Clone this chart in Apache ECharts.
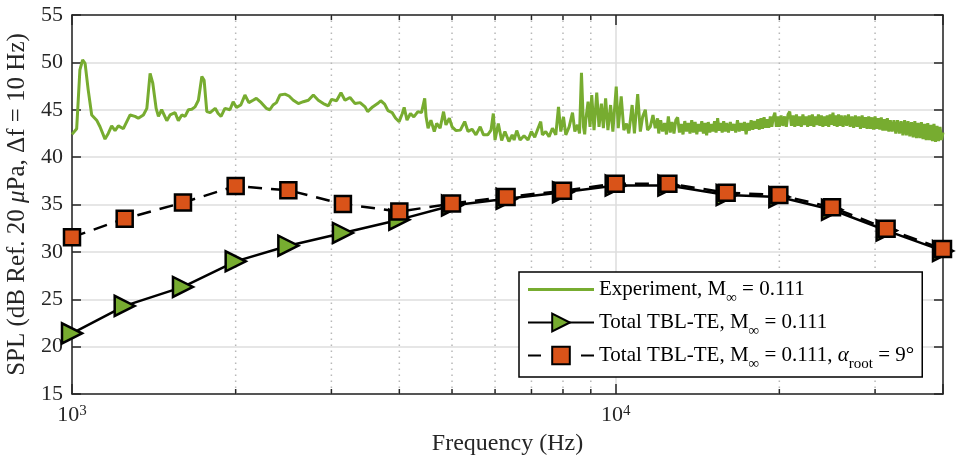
<!DOCTYPE html>
<html>
<head>
<meta charset="utf-8">
<script src="https://cdn.jsdelivr.net/npm/echarts@6/dist/echarts.min.js"></script>
<style>
  html, body { margin: 0; padding: 0; background: #fff; }
  #chart { width: 956px; height: 464px; }
</style>
</head>
<body>
<div id="chart"></div>
<script>
// 1/3 octave band centres (Hz)
var bandFreqs = [1000, 1250, 1600, 2000, 2500, 3150, 4000, 5000, 6300, 8000, 10000, 12500, 16000, 20000, 25000, 31500, 40000];
// Total TBL-TE, M = 0.111
var tblTE = [21.4, 24.3, 26.3, 29.0, 30.65, 32.0, 33.4, 34.9, 35.6, 36.3, 37.0, 37.0, 36.0, 35.8, 34.45, 32.25, 30.1];
// Total TBL-TE, M = 0.111, alpha_root = 9 deg
var tblTE9 = [31.55, 33.5, 35.2, 36.95, 36.5, 35.05, 34.25, 35.1, 35.8, 36.45, 37.2, 37.2, 36.25, 36.0, 34.7, 32.45, 30.3];

// experiment narrowband spectrum [Hz, dB]
var expData = [
  [1000,42.4],[1020,43.0],[1034,49.2],[1046,50.25],[1057,49.9],[1071,47.1],[1087,44.45],[1110,43.9],[1126,43.2],[1150,41.9],
  [1166,42.5],[1183,43.3],[1200,42.8],[1217,43.3],[1243,43.0],[1279,44.45],[1306,44.3],[1324,44.1],[1353,44.45],[1373,45.15],
  [1392,48.85],[1408,47.8],[1428,45.15],[1442,44.3],[1462,45.0],[1494,43.85],[1515,44.45],[1547,44.7],[1569,43.85],[1592,44.45],
  [1614,44.3],[1637,45.0],[1661,45.05],[1684,45.3],[1708,46.0],[1733,48.5],[1750,48.1],[1770,44.8],[1795,44.7],[1834,45.15],
  [1857,44.6],[1880,44.3],[1911,45.15],[1952,45.0],[1979,45.85],[2007,45.25],[2044,45.5],[2080,46.55],[2115,45.75],[2153,46.0],
  [2183,46.2],[2229,45.75],[2277,45.15],[2311,45.0],[2343,45.5],[2377,45.75],[2412,46.55],[2464,46.65],[2507,46.45],[2553,46.0],
  [2608,45.65],[2664,45.85],[2721,46.0],[2779,46.55],[2838,46.0],[2899,45.65],[2961,45.4],[3002,46.1],[3066,45.95],[3124,46.8],
  [3178,46.0],[3246,46.3],[3316,45.65],[3387,45.75],[3460,45.3],[3498,44.8],[3572,45.3],[3648,45.65],[3698,45.95],[3759,45.6],
  [3812,44.9],[3880,44.7],[3938,44.1],[3997,43.75],[4051,44.6],[4083,45.25],[4132,43.9],[4193,44.6],[4253,44.25],[4327,44.8],
  [4394,44.7],[4454,46.2],[4480,44.25],[4518,43.05],[4573,43.9],[4638,42.7],[4686,43.55],[4754,43.05],[4824,44.8],[4873,43.4],
  [4944,44.1],[5001,43.2],[5086,42.8],[5180,42.85],[5276,43.75],[5351,42.7],[5441,42.95],[5533,42.35],[5634,43.2],[5713,42.35],
  [5817,42.35],[5898,42.85],[5956,44.6],[5999,41.8],[6083,43.55],[6170,41.75],[6256,42.7],[6363,41.65],[6452,42.35],[6503,41.8],
  [6577,42.8],[6670,41.8],[6783,42.25],[6899,41.8],[6998,42.7],[7097,42.1],[7178,42.85],[7280,43.75],[7332,42.35],[7436,42.7],
  [7542,42.15],[7650,43.05],[7760,42.35],[7849,45.3],[7926,42.7],[8017,44.25],[8096,42.35],[8211,43.2],[8329,44.7],[8411,42.7],
  [8506,43.4],[8580,42.5],[8651,48.9],[8725,43.2],[8770,42.4],[8810,43.9],[8896,45.85],[8971,43.2],[9036,46.55],[9124,42.85],
  [9229,46.8],[9319,43.2],[9413,45.65],[9492,43.05],[9583,46.2],[9677,42.85],[9787,45.5],[9882,42.7],[10024,47.45],[10109,43.05],
  [10237,46.4],[10352,42.85],[10470,43.55],[10572,42.5],[10722,45.5],[10826,42.5],[10977,46.65],[11101,42.7],[11209,44.25],[11337,45.0],
  [11447,42.85],[11578,43.2],[11711,44.45],[11826,43.05],[11943,44.1],
  [12000,42.5],[12100,43.9],[12200,42.7],[12300,43.6],[12400,42.4],[12500,44.3],[12600,42.6],[12700,43.7],[12800,42.5],[12900,43.9],
  [13000,44.2],[13100,42.6],[13200,43.5],[13300,42.4],[13400,43.8],[13500,42.7],[13600,43.6],[13700,42.5],[13800,43.9],[13900,42.6],
  [14000,43.7],[14100,42.4],[14200,43.5],[14300,42.7],[14400,43.8],[14500,42.5],[14600,43.6],[14700,42.3],[14800,43.7],[14900,42.6],
  [15000,43.5],[15100,42.7],[15200,43.8],[15300,42.6],[15400,44.1],[15500,42.8],[15600,43.6],[15700,42.6],[15800,43.8],[15900,42.7],
  [16000,43.6],[16125,42.6],[16250,43.7],[16375,42.8],[16500,43.5],[16625,42.6],[16750,43.9],[16875,42.7],[17000,43.6],[17125,42.8],
  [17250,43.7],[17375,42.4],[17500,43.6],[17625,42.8],[17750,43.9],[17875,42.9],[18000,43.8],[18125,43.0],[18250,44.0],[18375,42.9],
  [18500,44.1],[18625,43.0],[18750,44.2],[18875,43.1],[19000,44.0],[19125,43.1],[19250,44.3],[19375,43.2],[19500,44.2],[19625,44.7],
  [19750,43.2],[19875,44.3],[20000,43.2],[20150,44.4],[20300,43.3],[20450,44.3],[20600,43.2],[20750,44.5],[20900,44.8],[21050,43.3],
  [21200,44.4],[21350,43.2],[21500,44.5],[21650,43.3],[21800,44.3],[21950,43.2],[22100,44.5],[22250,43.4],[22400,44.3],[22550,43.2],
  [22700,44.4],[22850,43.3],[23000,44.5],[23150,43.2],[23300,44.3],[23450,43.4],[23600,44.5],[23750,43.3],[23900,44.4],[24050,43.2],
  [24200,44.3],[24350,43.3],[24500,44.4],[24650,43.2],[24800,44.5],[24950,43.4],[25100,44.7],[25250,43.3],[25400,44.4],[25550,43.2],
  [25700,44.5],[25850,43.3],[26000,44.4],[26200,43.2],[26400,44.4],[26600,43.3],[26800,44.5],[27000,43.2],[27200,44.3],[27400,43.1],
  [27600,44.4],[27800,43.2],[28000,44.3],[28200,43.0],[28400,44.4],[28600,43.1],[28800,44.2],[29000,43.0],[29200,44.3],[29400,43.0],
  [29600,44.2],[29800,42.9],[30000,44.3],[30200,43.0],[30400,44.1],[30600,42.9],[30800,44.2],[31000,42.8],[31200,44.0],[31400,42.8],
  [31600,44.1],[31800,42.7],[32000,43.9],[32250,42.7],[32500,43.9],[32750,42.5],[33000,43.9],[33250,42.5],[33500,43.8],[33750,42.3],
  [34000,43.9],[34250,42.3],[34500,43.8],[34750,42.2],[35000,43.7],[35250,42.1],[35500,43.8],[35750,42.0],[36000,43.6],[36250,42.0],
  [36500,43.7],[36750,41.9],[37000,43.5],[37250,41.8],[37500,43.6],[37750,41.8],[38000,43.4],[38250,41.7],[38500,43.5],[38750,41.6],
  [39000,43.3],[39250,41.7],[39500,43.2],[39750,41.8],[40000,42.6]
];

// minor (dotted) grid positions on the log axis
var minorFreqs = [2000, 3000, 4000, 5000, 6000, 7000, 8000, 9000, 20000, 30000];
var yMin = 15, yMax = 55;

var serif = 'Liberation Serif';
var axisColor = '#262626';

var legendText = {
  exp: '{t|Experiment, M}{sub|∞}{t| = 0.111}',
  tbl: '{t|Total TBL-TE, M}{sub|∞}{t| = 0.111}',
  tbl9: '{t|Total TBL-TE, M}{sub|∞}{t| = 0.111, }{it|α}{sub|root}{t| = 9°}'
};

var option = {
  animation: false,
  grid: { left: 72, top: 15, right: 13, bottom: 70, outerBoundsMode: 'none', containLabel: false },
  legend: {
    orient: 'vertical',
    left: 519,
    top: 272,
    padding: [7, 8, 5, 8],
    itemGap: 6,
    itemWidth: 66,
    itemHeight: 22,
    backgroundColor: '#fff',
    borderColor: '#000',
    borderWidth: 1.5,
    borderRadius: 0,
    selectedMode: false,
    data: [
      { name: 'exp', icon: 'path://M0,0H66V2.8H0Z' },
      { name: 'tbl' },
      { name: 'tbl9', lineStyle: { type: [13, 40] } }
    ],
    formatter: function (name) { return legendText[name]; },
    textStyle: {
      rich: {
        t: { fontFamily: serif, fontSize: 21, color: '#000', lineHeight: 24 },
        it: { fontFamily: serif, fontSize: 21, color: '#000', fontStyle: 'italic', lineHeight: 24 },
        sub: { fontFamily: serif, fontSize: 15, color: '#000', padding: [18, 0, 0, 0] }
      }
    }
  },
  xAxis: [{
    type: 'log',
    logBase: 10,
    min: 1000,
    max: 40000,
    name: 'Frequency (Hz)',
    nameLocation: 'middle',
    nameGap: 34,
    nameTextStyle: { fontFamily: serif, fontSize: 24, color: axisColor },
    axisLine: { lineStyle: { color: axisColor, width: 1.5 } },
    axisTick: { inside: true, length: 10, lineStyle: { color: axisColor, width: 1.5 } },
    splitLine: { show: true, lineStyle: { color: '#dcdcdc', width: 1.5 } },
    axisLabel: {
      margin: 10,
      formatter: function (v) {
        var e = Math.log10(v);
        if (Math.abs(e - Math.round(e)) > 1e-6) return '';
        return '{b|10}{s|' + Math.round(e) + '}';
      },
      rich: {
        b: { fontFamily: serif, fontSize: 22, color: axisColor },
        s: { fontFamily: serif, fontSize: 15, color: axisColor, padding: [0, 0, 8, 0] }
      }
    }
  }, {
    type: 'log',
    logBase: 10,
    min: 1000,
    max: 40000,
    position: 'top',
    axisLine: { lineStyle: { color: axisColor, width: 1.5 } },
    axisTick: { inside: true, length: 10, lineStyle: { color: axisColor, width: 1.5 } },
    axisLabel: { show: false },
    splitLine: { show: false }
  }],
  yAxis: [{
    type: 'value',
    min: yMin,
    max: yMax,
    interval: 5,
    name: '{a|SPL (dB Ref. 20 }{i|μ}{a|Pa, Δf = 10 Hz)}',
    nameLocation: 'middle',
    nameGap: 38,
    nameTextStyle: {
      rich: {
        a: { fontFamily: serif, fontSize: 25, color: axisColor },
        i: { fontFamily: serif, fontSize: 25, color: axisColor, fontStyle: 'italic' }
      }
    },
    axisLine: { show: true, lineStyle: { color: axisColor, width: 1.5 } },
    axisTick: { show: true, inside: true, length: 9, lineStyle: { color: axisColor, width: 1.5 } },
    splitLine: { show: true, lineStyle: { color: '#dedede', width: 1.5 } },
    axisLabel: { margin: 9, fontFamily: serif, fontSize: 22, color: axisColor }
  }, {
    type: 'value',
    min: yMin,
    max: yMax,
    interval: 5,
    position: 'right',
    axisLine: { show: true, lineStyle: { color: axisColor, width: 1.5 } },
    axisTick: { show: true, inside: true, length: 9, lineStyle: { color: axisColor, width: 1.5 } },
    splitLine: { show: false },
    axisLabel: { show: false }
  }],
  series: [
    {
      // dotted minor grid + minor ticks
      type: 'custom',
      name: 'minor',
      silent: true,
      z: 1,
      clip: false,
      data: minorFreqs.map(function (f) { return [f, yMin]; }),
      renderItem: function (params, api) {
        var f = api.value(0);
        var b = api.coord([f, yMin]);
        var t = api.coord([f, yMax]);
        return {
          type: 'group',
          children: [
            { type: 'line', shape: { x1: b[0], y1: b[1], x2: t[0], y2: t[1] },
              style: { stroke: '#b8b8b8', lineWidth: 1.5, lineDash: [1.5, 4.5] } },
            { type: 'line', shape: { x1: b[0], y1: b[1], x2: b[0], y2: b[1] - 5 },
              style: { stroke: axisColor, lineWidth: 1.5 } },
            { type: 'line', shape: { x1: t[0], y1: t[1], x2: t[0], y2: t[1] + 5 },
              style: { stroke: axisColor, lineWidth: 1.5 } }
          ]
        };
      }
    },
    {
      name: 'exp',
      type: 'line',
      z: 2,
      data: expData,
      showSymbol: false,
      symbol: 'none',
      color: '#77AC30',
      lineStyle: { color: '#77AC30', width: 3 }
    },
    {
      name: 'tbl',
      type: 'line',
      z: 3,
      clip: false,
      data: bandFreqs.map(function (f, i) { return [f, tblTE[i]]; }),
      symbol: 'triangle',
      symbolRotate: -90,
      symbolSize: 20,
      color: '#77AC30',
      itemStyle: { color: '#77AC30', borderColor: '#000', borderWidth: 2.5 },
      lineStyle: { color: '#000', width: 2.5 }
    },
    {
      name: 'tbl9',
      type: 'line',
      z: 4,
      clip: false,
      data: bandFreqs.map(function (f, i) { return [f, tblTE9[i]]; }),
      symbol: 'rect',
      symbolSize: 16,
      color: '#D95319',
      itemStyle: { color: '#D95319', borderColor: '#000', borderWidth: 2.5 },
      lineStyle: { color: '#000', width: 2.5, type: [14, 9] }
    }
  ]
};

var myChart = echarts.init(document.getElementById('chart'));
myChart.setOption(option);
</script>
</body>
</html>
